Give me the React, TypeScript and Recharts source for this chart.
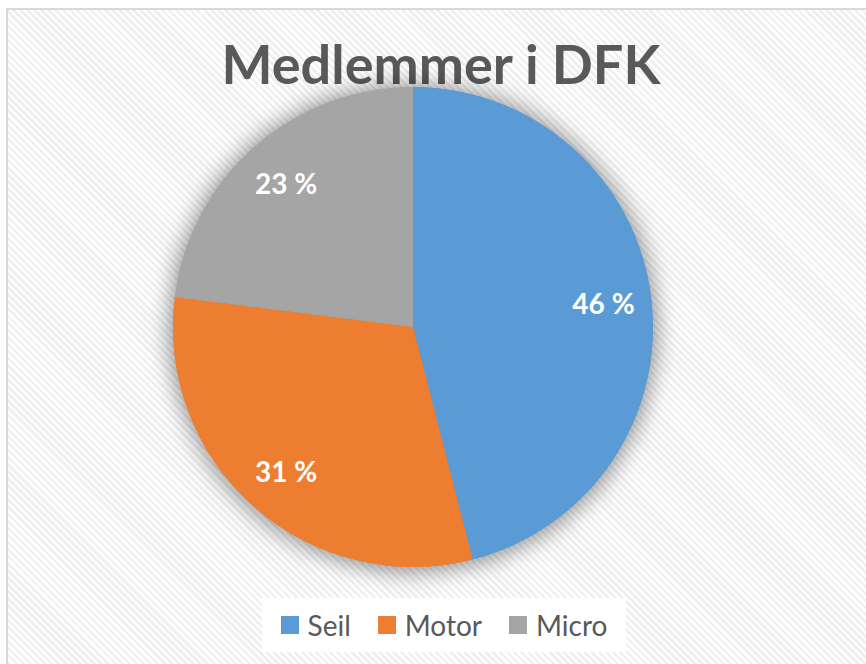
import React from "react";
import { PieChart, Pie, Cell, Legend } from "recharts";

const categories = ["Seil", "Motor", "Micro"];
const shares = [46, 31, 23];
const colors = ["#5B9BD5", "#ED7D31", "#A5A5A5"];

const data = categories.map((name, i) => ({ name, value: shares[i] }));

const RAD = Math.PI / 180;

function renderLabel(props: any) {
  const { cx, cy, midAngle, outerRadius, value } = props;
  const r = outerRadius * 0.8;
  const x = cx + r * Math.cos(-midAngle * RAD);
  const y = cy + r * Math.sin(-midAngle * RAD);
  return (
    <text
      x={x}
      y={y}
      fill="#ffffff"
      textAnchor="middle"
      dominantBaseline="central"
      style={{ fontFamily: "Lato", fontWeight: 700, fontSize: 28 }}
    >
      {`${value} %`}
    </text>
  );
}

// legend built from our own lists so the shadow pie doesn't add duplicates
function LegendContent() {
  return (
    <div
      style={{
        display: "flex",
        justifyContent: "center",
        alignItems: "center",
        background: "#ffffff",
        height: 54,
        fontFamily: "Lato",
        fontSize: 28,
        color: "#595959",
      }}
    >
      {categories.map((c, i) => (
        <div key={c} style={{ display: "flex", alignItems: "center", marginLeft: i === 0 ? 0 : 27 }}>
          <span style={{ width: 18, height: 18, background: colors[i], display: "inline-block", marginRight: 9 }} />
          <span>{c}</span>
        </div>
      ))}
    </div>
  );
}

export default function App() {
  return (
    <div style={{ position: "absolute", left: 0, top: 0, width: 866, height: 664, overflow: "hidden", background: "#ffffff" }}>
      <style>{`.pie-shadow { filter: drop-shadow(0px 1px 12px rgba(0,0,0,0.28)); }`}</style>
      <div
        style={{
          position: "absolute",
          left: 6,
          top: 8,
          width: 900,
          height: 700,
          border: "2px solid #d9d9d9",
          backgroundColor: "#ffffff",
          backgroundImage:
            "repeating-linear-gradient(45deg, #ffffff 0px, #ffffff 2.5px, #efefef 2.5px, #efefef 5px)",
        }}
      />
      <div
        style={{
          position: "absolute",
          left: 0,
          width: 882,
          top: 26,
          textAlign: "center",
          fontFamily: "Lato",
          fontWeight: 700,
          fontSize: 54,
          color: "#595959",
          lineHeight: "76px",
        }}
      >
        Medlemmer i DFK
      </div>
      <div style={{ position: "absolute", left: 0, top: 0 }}>
        <PieChart width={866} height={664} margin={{ top: 0, right: 0, bottom: 0, left: 0 }}>
          <Pie
            className="pie-shadow"
            data={data}
            dataKey="value"
            nameKey="name"
            cx={413}
            cy={327}
            outerRadius={240}
            startAngle={90}
            endAngle={-270}
            stroke="none"
            isAnimationActive={false}
          >
            {data.map((d, i) => (
              <Cell key={d.name} fill={colors[i]} />
            ))}
          </Pie>
          <Pie
            data={data}
            dataKey="value"
            nameKey="name"
            cx={413}
            cy={327}
            outerRadius={240}
            startAngle={90}
            endAngle={-270}
            stroke="none"
            label={renderLabel}
            labelLine={false}
            isAnimationActive={false}
          >
            {data.map((d, i) => (
              <Cell key={d.name} fill={colors[i]} />
            ))}
          </Pie>
          <Legend
            content={<LegendContent />}
            wrapperStyle={{ left: 262, top: 598, width: 364, height: 54, bottom: "auto" }}
          />
        </PieChart>
      </div>
    </div>
  );
}
